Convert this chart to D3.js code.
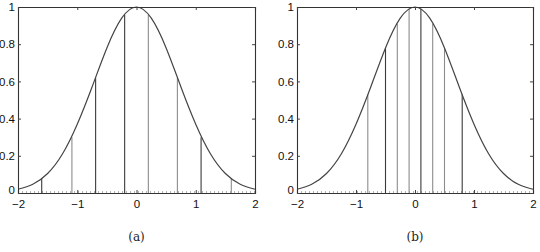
<!DOCTYPE html>
<html>
<head>
<meta charset="utf-8">
<script src="https://cdn.jsdelivr.net/npm/d3@7"></script>
<style>
  body { margin: 0; background: #fff; }
  svg { display: block; }
</style>
</head>
<body>
<svg id="chart" width="540" height="252"></svg>
<script>
const curveX = [-2, -1.75, -1.5, -1.25, -1, -0.75, -0.5, -0.25, 0, 0.25, 0.5, 0.75, 1, 1.25, 1.5, 1.75, 2];
const curveY = [0.02, 0.047, 0.105, 0.21, 0.37, 0.57, 0.78, 0.94, 1.0, 0.94, 0.78, 0.57, 0.37, 0.21, 0.105, 0.047, 0.02];

// stems of panel (a)
const stemsAX = [-1.6, -1.09, -0.69, -0.2, 0.2, 0.69, 1.09, 1.6];
const stemsAY = [0.08, 0.30, 0.62, 0.96, 0.96, 0.62, 0.30, 0.08];
const stemsAShade = ['dark', 'light', 'dark', 'dark', 'light', 'light', 'dark', 'light'];

// stems of panel (b)
const stemsBX = [-0.8, -0.5, -0.3, -0.1, 0.1, 0.3, 0.5, 0.8];
const stemsBY = [0.53, 0.78, 0.91, 0.99, 0.99, 0.91, 0.78, 0.53];
const stemsBShade = ['light', 'dark', 'light', 'light', 'dark', 'light', 'light', 'dark'];

const xTicks = [-2, -1, 0, 1, 2];
const yTicks = [0, 0.2, 0.4, 0.6, 0.8, 1];
const yTickLabels = ['0', '0.2', '0.4', '0.6', '0.8', '1'];

const svg = d3.select('#chart');

function drawPanel(left, right, caption, sx, sy, shade) {
  const top = 7, bottom = 193;
  const x = d3.scaleLinear().domain([-2, 2]).range([left, right]);
  const y = d3.scaleLinear().domain([0, 1]).range([bottom, top]);
  const g = svg.append('g');

  // dotted baseline
  g.append('line')
    .attr('x1', x(-2)).attr('x2', x(2))
    .attr('y1', y(0) - 1).attr('y2', y(0) - 1)
    .style('stroke', '#666').style('stroke-dasharray', '1,3');

  // stems
  g.selectAll('.stem')
    .data(sx.map((v, i) => ({ x: v, y: sy[i], s: shade[i] })))
    .enter()
    .append('line')
    .attr('x1', d => x(d.x)).attr('x2', d => x(d.x))
    .attr('y1', y(0)).attr('y2', d => y(d.y))
    .style('stroke', d => d.s === 'dark' ? '#3a3a3a' : '#8c8c8c')
    .style('stroke-width', 1.1);

  // curve
  const line = d3.line()
    .x((d, i) => x(curveX[i]))
    .y(d => y(d))
    .curve(d3.curveNatural);
  g.append('path')
    .datum(curveY)
    .attr('d', line)
    .style('fill', 'none')
    .style('stroke', '#444')
    .style('stroke-width', 1.2);

  // axes
  g.append('g')
    .attr('transform', `translate(0, ${bottom})`)
    .call(d3.axisBottom(x).tickValues(xTicks).tickSize(-3).tickPadding(7)
      .tickFormat(d => d < 0 ? '\u2212' + Math.abs(d) : d));
  const yAxis = g.append('g')
    .attr('transform', `translate(${left}, 0)`)
    .call(d3.axisLeft(y).tickValues(yTicks).tickSize(-3).tickPadding(3)
      .tickFormat((d, i) => yTickLabels[i]));
  g.append('g')
    .attr('transform', `translate(0, ${top})`)
    .call(d3.axisTop(x).tickValues(xTicks).tickSize(-3).tickFormat(''));
  g.append('g')
    .attr('transform', `translate(${right}, 0)`)
    .call(d3.axisRight(y).tickValues(yTicks).tickSize(-3).tickFormat(''));

  g.selectAll('.domain').style('stroke', '#333').style('stroke-width', 1.1);
  g.selectAll('.tick line').style('stroke', '#444');
  g.selectAll('.tick text')
    .style('font-family', '"Liberation Sans", Arial, sans-serif')
    .style('font-size', '11.5px')
    .style('fill', '#111');
  // lift the y "0" label a little so it clears the "-2" below
  yAxis.selectAll('.tick text').filter(d => d === 0)
    .attr('dy', null);

  // caption
  svg.append('text')
    .attr('x', (left + right) / 2)
    .attr('y', 241)
    .attr('text-anchor', 'middle')
    .style('font-family', '"DejaVu Serif", "Liberation Serif", serif')
    .style('font-size', '12px')
    .style('fill', '#222')
    .text(caption);
}

drawPanel(18, 255, '(a)', stemsAX, stemsAY, stemsAShade);
drawPanel(297, 533, '(b)', stemsBX, stemsBY, stemsBShade);
</script>
</body>
</html>
